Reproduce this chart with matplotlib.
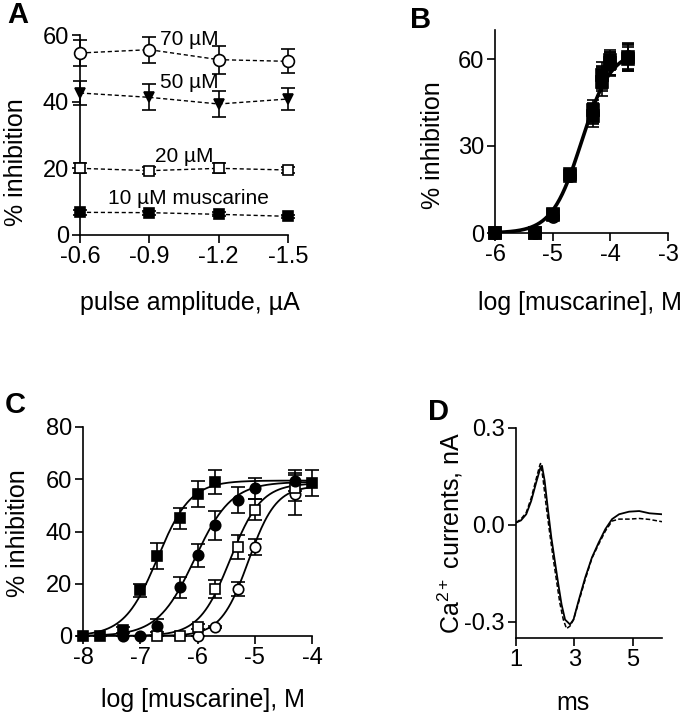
import numpy as np
import matplotlib.pyplot as plt

# fonts: Arial-like
plt.rcParams['font.family'] = ['Liberation Sans', 'DejaVu Sans']
plt.rcParams['axes.unicode_minus'] = False
plt.rcParams['mathtext.fontset'] = 'custom'
plt.rcParams['mathtext.rm'] = 'Liberation Sans'
plt.rcParams['mathtext.it'] = 'Liberation Sans:italic'

# ---- panel A: inhibition vs pulse amplitude ----
a_amp = [-0.6, -0.9, -1.2, -1.5]
a_amp_labels = ['-0.6', '-0.9', '-1.2', '-1.5']
a_10 = [6.8, 6.7, 6.2, 5.6]
a_10_err = [0.8, 0.6, 0.6, 0.5]
a_20 = [20.0, 19.3, 20.0, 19.5]
a_20_err = [1.5, 1.0, 1.5, 0.8]
a_50 = [42.6, 41.3, 39.3, 40.8]
a_50_err = [3.7, 3.9, 4.0, 3.2]
a_70 = [54.6, 55.6, 52.6, 52.1]
a_70_err = [3.9, 3.9, 4.2, 3.6]
a_labels = ['10 \u00b5M muscarine', '20 \u00b5M', '50 \u00b5M', '70 \u00b5M']

# ---- panel B: dose-response at different pulse amplitudes ----
b_conc = [-6, -5.3, -5, -4.7, -4.3, -4.15, -4, -3.7]
b_sq1 = [0, 0, 6.7, 19.8, 42.4, 54.5, 58.5, 60.8]
b_sq1_err = [0.5, 0.5, 1.0, 1.5, 3.5, 4.5, 4.0, 4.5]
b_sq2 = [0, 0, 6.2, 20.2, 40.4, 52.2, 59.6, 60.0]
b_sq2_err = [0.5, 0.5, 1.0, 1.5, 4.0, 5.0, 3.5, 4.0]
b_ci = [0, 0, 6.0, 19.5, 41.5, 53.5, 58.0, 61.0]
b_ci_err = [0.5, 0.5, 1.0, 1.5, 3.5, 4.0, 4.0, 4.5]
b_oci = [0, 0, 5.5, 19.5, 41.0, 53.0, 58.5, 60.5]
# Hill fit: top, logEC50, slope
b_fit = [63.0, -4.5, 1.7]

# ---- panel C: dose-response curves ----
c_conc_sq = [-8, -7.7, -7.3, -7, -6.7, -6.3, -6, -5.7, -4]
c_sq = [0, 0, 2.3, 17.5, 30.5, 45.0, 54.5, 59.0, 58.7]
c_sq_err = [0, 0, 1.0, 2.5, 5.0, 4.0, 5.0, 4.5, 5.0]
c_conc_ci = [-7.3, -7, -6.7, -6.3, -6, -5.7, -5.3, -5, -4.3]
c_ci = [0, 0, 4.0, 18.7, 30.9, 42.3, 52.0, 56.5, 59.4]
c_ci_err = [0, 0, 2.5, 4.0, 4.5, 5.5, 5.0, 4.0, 4.0]
c_conc_osq = [-6.7, -6.3, -6, -5.7, -5.3, -5, -4.3]
c_osq = [0, 0, 3.6, 18.0, 34.0, 48.3, 56.8]
c_osq_err = [0, 0, 1.0, 3.5, 4.5, 4.0, 5.0]
c_conc_oci = [-6, -5.7, -5.3, -5, -4.3]
c_oci = [0, 3.5, 18.0, 34.0, 54.5]
c_oci_err = [0, 0.5, 2.5, 3.0, 8.0]
# Hill fits: top, logEC50, slope (filled sq, filled ci, open sq, open ci)
c_top = [59.5, 59.0, 58.5, 57.5]
c_logec50 = [-6.7, -6.05, -5.43, -5.11]
c_slope = [1.5, 1.35, 1.6, 1.8]

# ---- panel D: Ca2+ current traces ----
d_t_solid = [1.0, 1.17, 1.35, 1.52, 1.69, 1.84, 1.89, 1.98, 2.10, 2.21, 2.33, 2.45,
             2.56, 2.68, 2.85, 2.97, 3.14, 3.37, 3.60, 3.83, 4.06, 4.29, 4.53,
             4.87, 5.22, 5.57, 6.0]
d_i_solid = [0.007, 0.014, 0.033, 0.074, 0.131, 0.178, 0.183, 0.137, 0.043, -0.039,
             -0.112, -0.184, -0.246, -0.293, -0.308, -0.293, -0.236, -0.163, -0.101,
             -0.055, -0.013, 0.018, 0.033, 0.041, 0.043, 0.036, 0.033]
d_t_dash = [1.0, 1.17, 1.35, 1.52, 1.69, 1.81, 1.84, 1.92, 2.04, 2.16, 2.27, 2.39,
            2.50, 2.62, 2.73, 2.85, 2.97, 3.14, 3.37, 3.60, 3.83, 4.06, 4.29, 4.53,
            4.87, 5.22, 5.57, 6.0]
d_i_dash = [0.007, 0.018, 0.038, 0.083, 0.142, 0.183, 0.190, 0.147, 0.054, -0.029,
            -0.101, -0.174, -0.241, -0.293, -0.321, -0.313, -0.293, -0.241, -0.169,
            -0.103, -0.060, -0.019, 0.012, 0.018, 0.018, 0.020, 0.017, 0.010]


def hill(x, top, ec, n):
    return top / (1 + 10 ** ((ec - x) * n))


def style_axes(ax):
    ax.spines['top'].set_visible(False)
    ax.spines['right'].set_visible(False)
    ax.spines['left'].set_linewidth(1.2)
    ax.spines['bottom'].set_linewidth(1.2)
    ax.tick_params(direction='out', length=6, width=1.2, labelsize=17, pad=2)


def points(ax, x, y, err, marker, face, ms=7.5, cap=4):
    ax.errorbar(x, y, yerr=err, fmt='none', ecolor='k', elinewidth=1.2,
                capsize=cap, capthick=1.2, clip_on=False, zorder=3)
    ax.plot(x, y, linestyle='none', marker=marker, ms=ms, mfc=face, mec='k',
            mew=1.2, clip_on=False, zorder=4)


W, H = 698, 720
fig = plt.figure(figsize=(W / 100, H / 100), dpi=100)


def px_axes(left, right, top, bottom):
    return fig.add_axes([left / W, 1 - bottom / H, (right - left) / W, (bottom - top) / H])


def px_text(x, y, s, **kw):
    fig.text(x / W, 1 - y / H, s, ha='center', va='center', **kw)


# ---------------- A ----------------
ax = px_axes(80, 288, 35, 235)
style_axes(ax)
ax.set_xlim(-0.6, -1.5)
ax.set_ylim(0, 60)
ax.set_xticks(a_amp)
ax.set_xticklabels(a_amp_labels)
ax.set_yticks([0, 20, 40, 60])
a_series = [(a_10, a_10_err, 's', 'k', 7), (a_20, a_20_err, 's', 'w', 7.5),
            (a_50, a_50_err, 'v', 'k', 7.5), (a_70, a_70_err, 'o', 'w', 8.5)]
for y, e, m, f, ms in a_series:
    ax.plot(a_amp, y, color='k', lw=1, ls=(0, (3, 2)), clip_on=False, zorder=2)
    points(ax, a_amp, y, e, m, f, ms=ms, cap=5)
a_pos = [(-0.721, 11.1), (-0.925, 23.7), (-0.946, 45.6), (-0.946, 58.7)]
for (x, y), s in zip(a_pos, a_labels):
    ax.text(x, y, s, fontsize=15, ha='left', va='center', zorder=5)
px_text(18, 15, 'A', fontsize=21, fontweight='bold')
px_text(16, 162, '% inhibition', fontsize=18, rotation=90)
px_text(190, 303, 'pulse amplitude, \u00b5A', fontsize=18)

# ---------------- B ----------------
ax = px_axes(495, 668, 30, 233)
style_axes(ax)
ax.set_xlim(-6, -3)
ax.set_ylim(0, 70)
ax.set_xticks([-6, -5, -4, -3])
ax.set_yticks([0, 30, 60])
xb = np.linspace(-6, -3.7, 200)
ax.plot(xb, hill(xb, *b_fit), color='k', lw=2.6, zorder=2)
points(ax, b_conc, b_oci, b_ci_err, 'o', 'w', ms=8)
points(ax, b_conc, b_ci, b_ci_err, 'o', 'k', ms=8)
points(ax, b_conc, b_sq2, b_sq2_err, 's', 'k', ms=8)
points(ax, b_conc, b_sq1, b_sq1_err, 's', 'k', ms=8)
px_text(421, 20, 'B', fontsize=21, fontweight='bold')
px_text(433, 145, '% inhibition', fontsize=18, rotation=90)
px_text(580, 303, 'log [muscarine], M', fontsize=18)

# ---------------- C ----------------
ax = px_axes(83, 312, 427, 636)
style_axes(ax)
ax.set_xlim(-8, -4)
ax.set_ylim(0, 80)
ax.set_xticks([-8, -7, -6, -5, -4])
ax.set_yticks([0, 20, 40, 60, 80])
xc = np.linspace(-8, -4, 300)
for top, ec, n in zip(c_top, c_logec50, c_slope):
    ax.plot(xc, hill(xc, top, ec, n), color='k', lw=1.3, zorder=2)
points(ax, c_conc_oci, c_oci, c_oci_err, 'o', 'w', ms=7.5, cap=5)
points(ax, c_conc_osq, c_osq, c_osq_err, 's', 'w', ms=7.5, cap=5)
points(ax, c_conc_ci, c_ci, c_ci_err, 'o', 'k', ms=7.5, cap=5)
points(ax, c_conc_sq, c_sq, c_sq_err, 's', 'k', ms=7.5, cap=5)
px_text(15, 405, 'C', fontsize=21, fontweight='bold')
px_text(18, 533, '% inhibition', fontsize=18, rotation=90)
px_text(203, 700, 'log [muscarine], M', fontsize=18)

# ---------------- D ----------------
ax = px_axes(516, 662, 428, 638)
style_axes(ax)
ax.set_xlim(1, 6)
ax.set_ylim(-0.35, 0.3)
ax.set_xticks([1, 3, 5])
ax.set_yticks([-0.3, 0.0, 0.3])
ax.set_yticklabels(['-0.3', '0.0', '0.3'])
ax.plot(d_t_solid, d_i_solid, color='k', lw=1.3)
ax.plot(d_t_dash, d_i_dash, color='k', lw=1.1, ls=(0, (3, 1.5)))
px_text(439, 412, 'D', fontsize=21, fontweight='bold')
px_text(450, 533, 'Ca$^{2+}$ currents, nA', fontsize=18, rotation=90)
px_text(573, 703, 'ms', fontsize=18)

fig.savefig('out.png', dpi=100)
